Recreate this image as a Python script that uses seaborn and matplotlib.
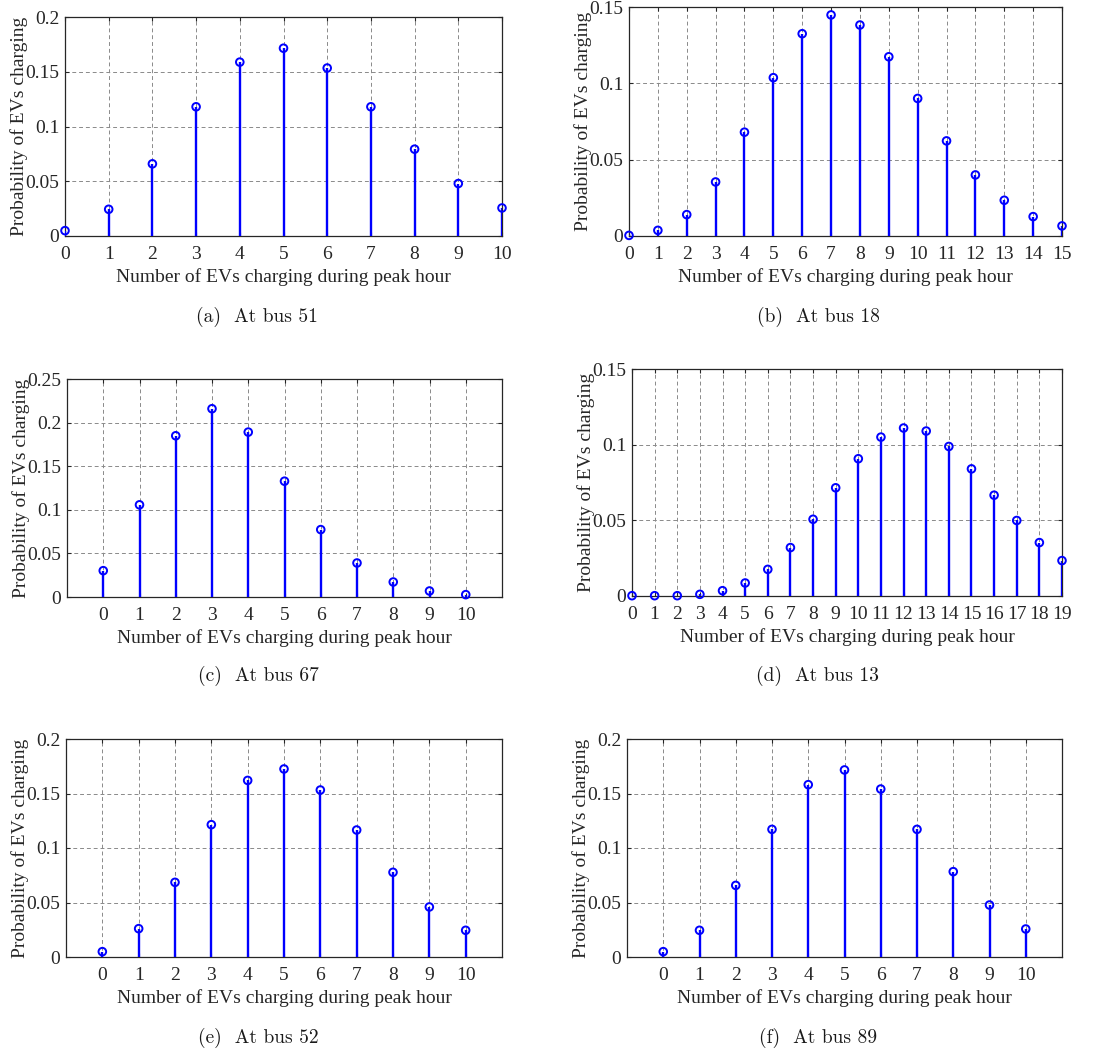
import numpy as np
import pandas as pd
import matplotlib
matplotlib.use("Agg")
import matplotlib.pyplot as plt
from matplotlib.ticker import FuncFormatter
import seaborn as sns

# ---------------- data ----------------
x_a = list(range(0, 11))
p_a = [0.0049, 0.0244, 0.0659, 0.118, 0.1588, 0.1715, 0.1534, 0.118, 0.0793, 0.0479, 0.0256]

x_b = list(range(0, 16))
p_b = [0.0004, 0.0037, 0.014, 0.0354, 0.068, 0.1037, 0.1325, 0.1448, 0.1382, 0.1174,
       0.0901, 0.0623, 0.040, 0.0234, 0.0127, 0.0066]

x_c = list(range(0, 11))
p_c = [0.0302, 0.1057, 0.1849, 0.2159, 0.1891, 0.1328, 0.0773, 0.039, 0.0172, 0.0069, 0.0027]

x_d = list(range(0, 20))
p_d = [0.0002, 0.0002, 0.0002, 0.0011, 0.0035, 0.0086, 0.0176, 0.032, 0.0507, 0.0715,
       0.0907, 0.105, 0.111, 0.109, 0.0988, 0.084, 0.0666, 0.0499, 0.0353, 0.0234]

x_e = list(range(0, 11))
p_e = [0.0049, 0.026, 0.0685, 0.1214, 0.162, 0.1725, 0.1532, 0.1165, 0.0777, 0.0459, 0.0245]

x_f = list(range(0, 11))
p_f = [0.0049, 0.0245, 0.0657, 0.1171, 0.1581, 0.1716, 0.1541, 0.1171, 0.0783, 0.0477, 0.0257]

captions = ["(a)  At bus 51", "(b)  At bus 18", "(c)  At bus 67",
            "(d)  At bus 13", "(e)  At bus 52", "(f)  At bus 89"]
xlabel = "Number of EVs charging during peak hour"
ylabel = "Probability of EVs charging"

# ---------------- style ----------------
sns.set_theme(style="white")
plt.rcParams["font.family"] = ["Liberation Serif", "DejaVu Serif"]
plt.rcParams["axes.unicode_minus"] = False

W, H = 1103, 1050
fig = plt.figure(figsize=(W / 100, H / 100), dpi=100)

# axes boxes in pixels: left, top, right, bottom
boxes = [
    (65, 17, 502, 236),
    (629, 7, 1062, 236),
    (67, 379, 502, 597),
    (632, 369, 1062, 596),
    (66, 739, 502, 957),
    (627, 739, 1062, 957),
]
panels = [
    (x_a, p_a, (0, 10), np.arange(0, 11), 0.2, np.arange(0, 0.2001, 0.05)),
    (x_b, p_b, (0, 15), np.arange(0, 16), 0.15, np.arange(0, 0.1501, 0.05)),
    (x_c, p_c, (-1, 11), np.arange(0, 11), 0.25, np.arange(0, 0.2501, 0.05)),
    (x_d, p_d, (0, 19), np.arange(0, 20), 0.15, np.arange(0, 0.1501, 0.05)),
    (x_e, p_e, (-1, 11), np.arange(0, 11), 0.2, np.arange(0, 0.2001, 0.05)),
    (x_f, p_f, (-1, 11), np.arange(0, 11), 0.2, np.arange(0, 0.2001, 0.05)),
]
cap_pos = [(257, 317), (818, 317), (258, 676), (818, 676), (258, 1038), (818, 1038)]

fmt = FuncFormatter(lambda v, pos: ("%g" % round(v, 4)))

for (xs, ps, xlim, xt, ytop, yt), (l, t, r, b), cap, (cx, cy) in zip(panels, boxes, captions, cap_pos):
    ax = fig.add_axes([l / W, 1 - b / H, (r - l) / W, (b - t) / H])
    df = pd.DataFrame({"n": xs, "p": ps})
    ax.vlines(df["n"], 0, df["p"], color="#0000ff", linewidth=1.7, zorder=3)
    sns.scatterplot(data=df, x="n", y="p", ax=ax, marker="o", s=30,
                    color="#0000ff", facecolors="none", edgecolors="#0000ff",
                    linewidth=1.4, zorder=4, clip_on=False)
    ax.set_xlim(*xlim)
    ax.set_ylim(0, ytop)
    ax.set_xticks(xt)
    ax.set_yticks(yt)
    ax.yaxis.set_major_formatter(fmt)
    ax.grid(True, linestyle=(0, (4, 3)), color="#8a8a8a", linewidth=0.7)
    ax.set_axisbelow(True)
    for s in ax.spines.values():
        s.set_color("#262626")
        s.set_linewidth(0.9)
        s.set_visible(True)
    ax.tick_params(direction="in", length=3, width=0.8, color="#262626",
                   top=True, right=True, bottom=True, left=True,
                   labelsize=14, labelcolor="#262626")
    ax.tick_params(axis="x", pad=7)
    ax.tick_params(axis="y", pad=4)
    ax.set_xlabel(xlabel, fontsize=14, color="#262626")
    ax.set_ylabel(ylabel, fontsize=14, color="#262626")
    ax.xaxis.set_label_coords(0.5, -32 / (b - t))
    ax.yaxis.set_label_coords(-37 / (r - l), 0.5)
    fig.text(cx / W, 1 - cy / H, cap, family="cmr10", fontsize=14,
             ha="center", va="center", color="#1a1a1a")

fig.savefig("out.png", dpi=100)
